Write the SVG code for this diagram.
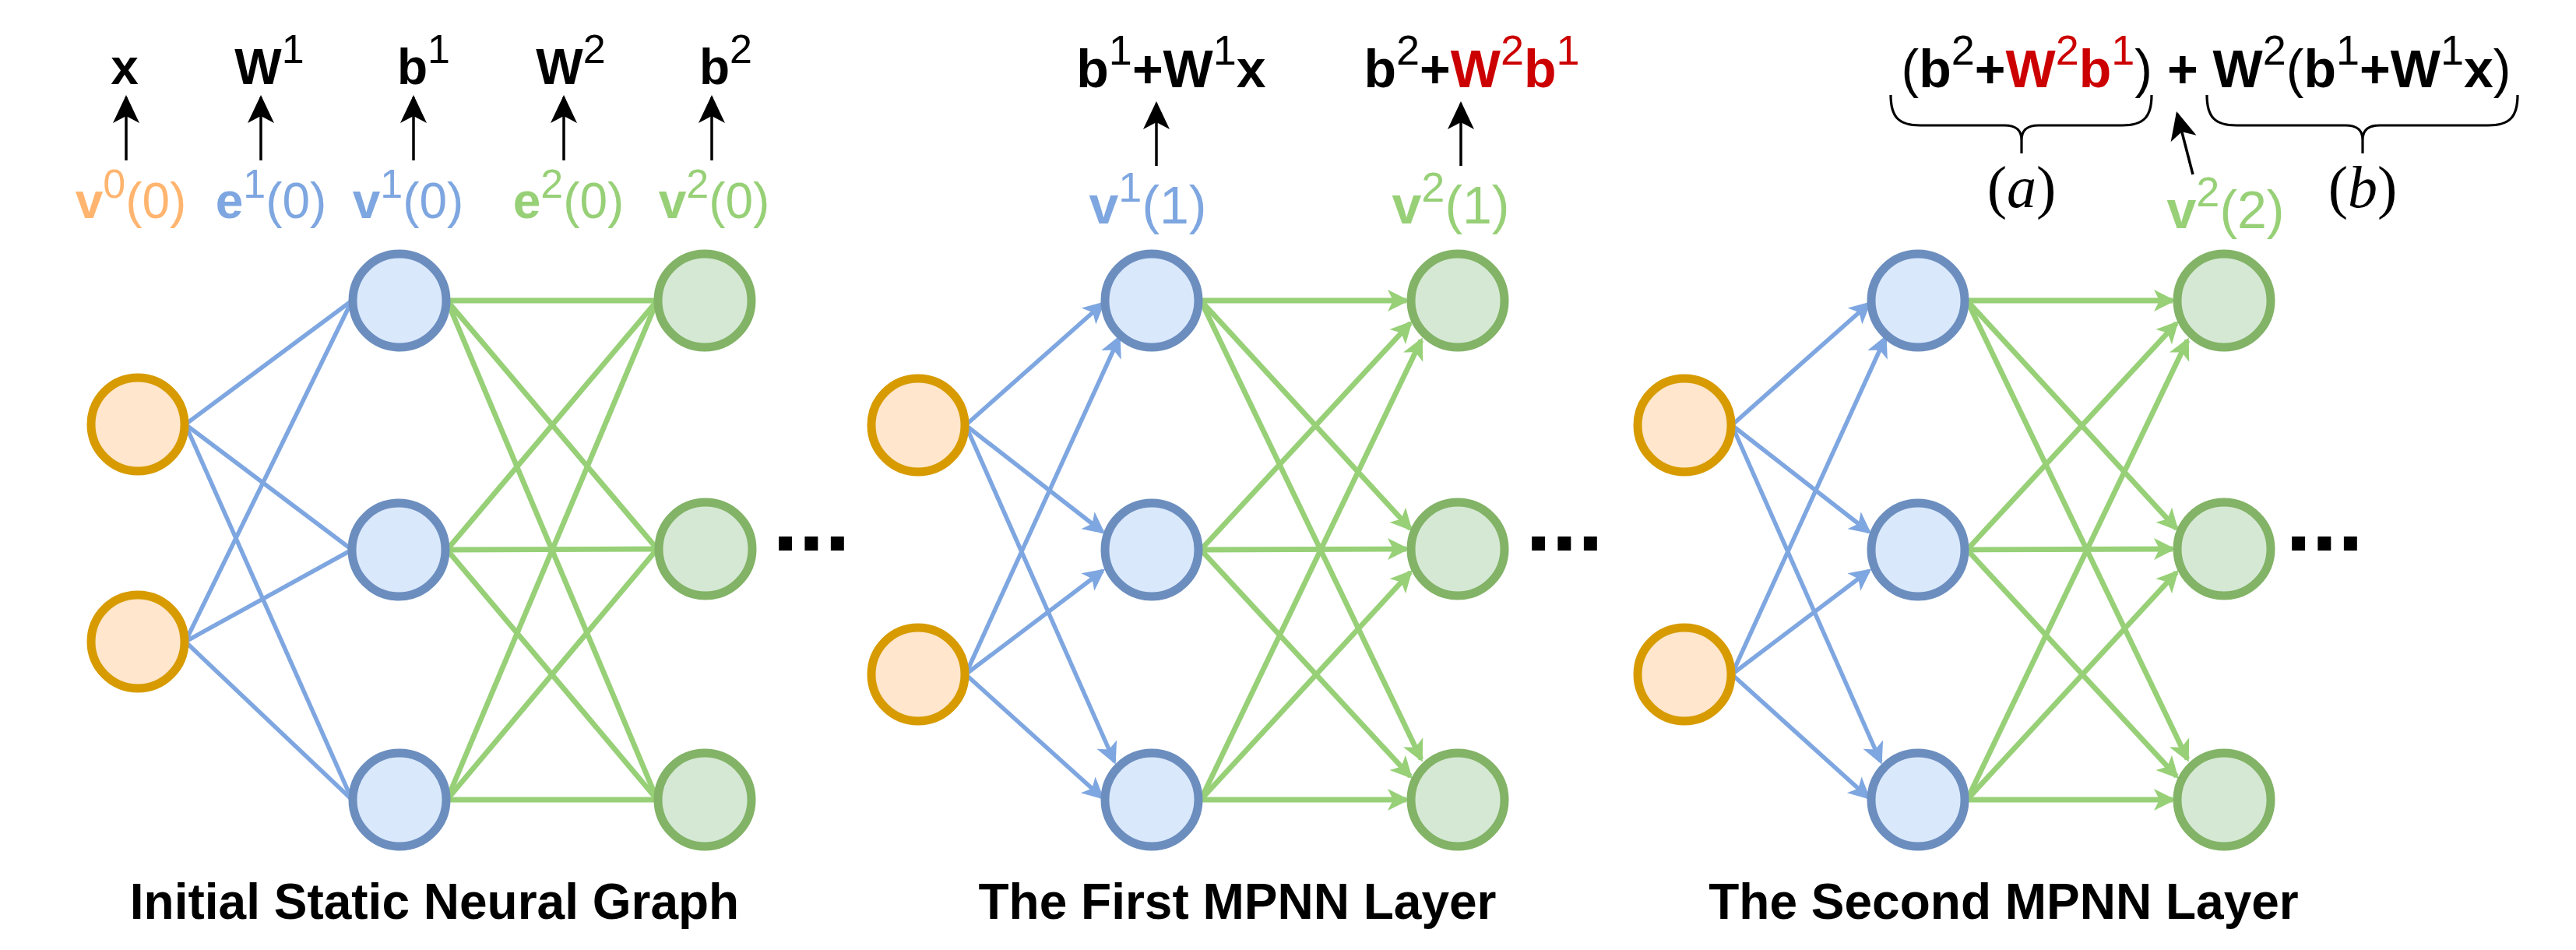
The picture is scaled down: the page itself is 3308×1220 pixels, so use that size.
<svg xmlns="http://www.w3.org/2000/svg" width="3308" height="1220" viewBox="0 0 3308 1220">
<defs>
<style>
.o{fill:#FFE6CC;stroke:#D79B00;stroke-width:11}
.b{fill:#DAE8FC;stroke:#6C8EBF;stroke-width:11}
.g{fill:#D5E8D4;stroke:#82B366;stroke-width:11}
.eb{stroke:#7EA6E0;stroke-width:5.5;fill:none}
.eg{stroke:#97D077;stroke-width:6.8;fill:none}
.ebm{stroke:#7EA6E0;stroke-width:5.5;fill:none;marker-end:url(#ab)}
.egm{stroke:#97D077;stroke-width:6.8;fill:none;marker-end:url(#ag)}
.k{stroke:#000;stroke-width:3.5;fill:none;marker-end:url(#ak)}
.br{stroke:#000;stroke-width:3.2;fill:none}
text{font-family:"Liberation Sans",Arial,Helvetica,sans-serif}
.bd{font-weight:bold}
.red{fill:#CC0000}
.cO{fill:#FFB570}
.cB{fill:#7EA6E0}
.cG{fill:#97D077}
.math{font-family:"Liberation Serif","Times New Roman",serif}
</style>
<marker id="ab" markerUnits="userSpaceOnUse" viewBox="-30 -16 34 32" markerWidth="34" markerHeight="32" refX="-4" refY="0" orient="auto"><path d="M0,0 L-28,-14 L-21,0 L-28,14 Z" fill="#7EA6E0"/></marker>
<marker id="ag" markerUnits="userSpaceOnUse" viewBox="-30 -16 34 32" markerWidth="34" markerHeight="32" refX="-4" refY="0" orient="auto"><path d="M0,0 L-28,-14 L-21,0 L-28,14 Z" fill="#97D077"/></marker>
<marker id="ak" markerUnits="userSpaceOnUse" viewBox="-38 -19 42 38" markerWidth="42" markerHeight="38" refX="-3" refY="0" orient="auto"><path d="M0,0 L-36,-17 L-27,0 L-36,17 Z" fill="#000"/></marker>
</defs>
<rect width="3308" height="1220" fill="#fff"/>

<g id="connectors">
  <g id="p1-edges">
    <path class="eb" d="M238,545 L452,386"/>
    <path class="eb" d="M238,545 L452,706"/>
    <path class="eb" d="M238,545 L452,1027"/>
    <path class="eb" d="M238,824 L452,386"/>
    <path class="eb" d="M238,824 L452,706"/>
    <path class="eb" d="M238,824 L452,1027"/>
    <path class="eg" d="M574,386 L844,386"/>
    <path class="eg" d="M574,386 L844,705"/>
    <path class="eg" d="M574,386 L844,1027"/>
    <path class="eg" d="M574,706 L844,386"/>
    <path class="eg" d="M574,706 L844,705"/>
    <path class="eg" d="M574,706 L844,1027"/>
    <path class="eg" d="M574,1027 L844,386"/>
    <path class="eg" d="M574,1027 L844,705"/>
    <path class="eg" d="M574,1027 L844,1027"/>
  </g>
  <g id="p2-edges">
    <path class="ebm" d="M1240,546 L1416,390"/>
    <path class="ebm" d="M1240,866 L1437,434"/>
    <path class="ebm" d="M1240,546 L1416,683"/>
    <path class="ebm" d="M1240,866 L1416,733"/>
    <path class="ebm" d="M1240,546 L1431,978"/>
    <path class="ebm" d="M1240,866 L1415,1024"/>
    <path class="egm" d="M1542,386 L1806,386"/>
    <path class="egm" d="M1542,706 L1811,415"/>
    <path class="egm" d="M1542,1027 L1825,437"/>
    <path class="egm" d="M1542,386 L1811,679"/>
    <path class="egm" d="M1542,706 L1806,705"/>
    <path class="egm" d="M1542,1027 L1811,735"/>
    <path class="egm" d="M1542,386 L1825,975"/>
    <path class="egm" d="M1542,706 L1811,997"/>
    <path class="egm" d="M1542,1027 L1806,1027"/>
  </g>
  <g id="p3-edges" transform="translate(984,0)">
    <path class="ebm" d="M1240,546 L1416,390"/>
    <path class="ebm" d="M1240,866 L1437,434"/>
    <path class="ebm" d="M1240,546 L1416,683"/>
    <path class="ebm" d="M1240,866 L1416,733"/>
    <path class="ebm" d="M1240,546 L1431,978"/>
    <path class="ebm" d="M1240,866 L1415,1024"/>
    <path class="egm" d="M1542,386 L1806,386"/>
    <path class="egm" d="M1542,706 L1811,415"/>
    <path class="egm" d="M1542,1027 L1825,437"/>
    <path class="egm" d="M1542,386 L1811,679"/>
    <path class="egm" d="M1542,706 L1806,705"/>
    <path class="egm" d="M1542,1027 L1811,735"/>
    <path class="egm" d="M1542,386 L1825,975"/>
    <path class="egm" d="M1542,706 L1811,997"/>
    <path class="egm" d="M1542,1027 L1806,1027"/>
  </g>
  <g id="label-arrows">
    <path class="k" d="M162,206 L162,125"/>
    <path class="k" d="M335,206 L335,125"/>
    <path class="k" d="M531,206 L531,125"/>
    <path class="k" d="M724,206 L724,125"/>
    <path class="k" d="M914,206 L914,125"/>
    <path class="k" d="M1485,213 L1485,133"/>
    <path class="k" d="M1876,213 L1876,133"/>
    <path class="k" d="M2816,224 L2795.8,146"/>
  </g>
</g>

<g id="p1-o1"><circle class="o" cx="177" cy="545" r="60"/></g>
<g id="p1-o2"><circle class="o" cx="177" cy="824" r="60"/></g>
<g id="p1-b1"><circle class="b" cx="513" cy="386" r="60"/></g>
<g id="p1-b2"><circle class="b" cx="512" cy="706" r="60"/></g>
<g id="p1-b3"><circle class="b" cx="513" cy="1027" r="60"/></g>
<g id="p1-g1"><circle class="g" cx="905" cy="386" r="60"/></g>
<g id="p1-g2"><circle class="g" cx="906" cy="705" r="60"/></g>
<g id="p1-g3"><circle class="g" cx="905" cy="1027" r="60"/></g>

<g id="p2-o1"><circle class="o" cx="1179" cy="546" r="60"/></g>
<g id="p2-o2"><circle class="o" cx="1179" cy="866" r="60"/></g>
<g id="p2-b1"><circle class="b" cx="1479" cy="386" r="60"/></g>
<g id="p2-b2"><circle class="b" cx="1479" cy="706" r="60"/></g>
<g id="p2-b3"><circle class="b" cx="1479" cy="1027" r="60"/></g>
<g id="p2-g1"><circle class="g" cx="1872" cy="386" r="60"/></g>
<g id="p2-g2"><circle class="g" cx="1872" cy="705" r="60"/></g>
<g id="p2-g3"><circle class="g" cx="1872" cy="1027" r="60"/></g>

<g id="p3-o1"><circle class="o" cx="2163" cy="546" r="60"/></g>
<g id="p3-o2"><circle class="o" cx="2163" cy="866" r="60"/></g>
<g id="p3-b1"><circle class="b" cx="2463" cy="386" r="60"/></g>
<g id="p3-b2"><circle class="b" cx="2463" cy="706" r="60"/></g>
<g id="p3-b3"><circle class="b" cx="2463" cy="1027" r="60"/></g>
<g id="p3-g1"><circle class="g" cx="2856" cy="386" r="60"/></g>
<g id="p3-g2"><circle class="g" cx="2856" cy="705" r="60"/></g>
<g id="p3-g3"><circle class="g" cx="2856" cy="1027" r="60"/></g>

<g id="labels">
  <text x="160" y="108" font-size="64" text-anchor="middle" class="bd">x</text>
  <text x="346" y="108" font-size="64" text-anchor="middle"><tspan class="bd">W</tspan><tspan dy="-27" font-size="52">1</tspan></text>
  <text x="544" y="108" font-size="64" text-anchor="middle"><tspan class="bd">b</tspan><tspan dy="-27" font-size="52">1</tspan></text>
  <text x="733" y="108" font-size="64" text-anchor="middle"><tspan class="bd">W</tspan><tspan dy="-27" font-size="52">2</tspan></text>
  <text x="932" y="108" font-size="64" text-anchor="middle"><tspan class="bd">b</tspan><tspan dy="-27" font-size="52">2</tspan></text>

  <text x="168" y="280" font-size="64" text-anchor="middle" class="cO"><tspan class="bd">v</tspan><tspan dy="-26" font-size="52">0</tspan><tspan dy="26">(0)</tspan></text>
  <text x="348" y="280" font-size="64" text-anchor="middle" class="cB"><tspan class="bd">e</tspan><tspan dy="-26" font-size="52">1</tspan><tspan dy="26">(0)</tspan></text>
  <text x="524" y="280" font-size="64" text-anchor="middle" class="cB"><tspan class="bd">v</tspan><tspan dy="-26" font-size="52">1</tspan><tspan dy="26">(0)</tspan></text>
  <text x="730" y="280" font-size="64" text-anchor="middle" class="cG"><tspan class="bd">e</tspan><tspan dy="-26" font-size="52">2</tspan><tspan dy="26">(0)</tspan></text>
  <text x="917" y="280" font-size="64" text-anchor="middle" class="cG"><tspan class="bd">v</tspan><tspan dy="-26" font-size="52">2</tspan><tspan dy="26">(0)</tspan></text>

  <text x="1504" y="112" font-size="68" text-anchor="middle"><tspan class="bd">b</tspan><tspan dy="-29" font-size="54">1</tspan><tspan dy="29" class="bd">+W</tspan><tspan dy="-29" font-size="54">1</tspan><tspan dy="29" class="bd">x</tspan></text>
  <text x="1890" y="112" font-size="68" text-anchor="middle"><tspan class="bd">b</tspan><tspan dy="-29" font-size="54">2</tspan><tspan dy="29" class="bd">+</tspan><tspan class="bd red">W</tspan><tspan dy="-29" font-size="54" class="red">2</tspan><tspan dy="29" class="bd red">b</tspan><tspan dy="-29" font-size="54" class="red">1</tspan></text>
  <text x="1474" y="287" font-size="68" text-anchor="middle" class="cB"><tspan class="bd">v</tspan><tspan dy="-28" font-size="54">1</tspan><tspan dy="28">(1)</tspan></text>
  <text x="1863" y="287" font-size="68" text-anchor="middle" class="cG"><tspan class="bd">v</tspan><tspan dy="-28" font-size="54">2</tspan><tspan dy="28">(1)</tspan></text>

  <text x="2833" y="112" font-size="68" text-anchor="middle">(<tspan class="bd">b</tspan><tspan dy="-29" font-size="54">2</tspan><tspan dy="29" class="bd">+</tspan><tspan class="bd red">W</tspan><tspan dy="-29" font-size="54" class="red">2</tspan><tspan dy="29" class="bd red">b</tspan><tspan dy="-29" font-size="54" class="red">1</tspan><tspan dy="29">)</tspan><tspan class="bd"> + W</tspan><tspan dy="-29" font-size="54">2</tspan><tspan dy="29">(</tspan><tspan class="bd">b</tspan><tspan dy="-29" font-size="54">1</tspan><tspan dy="29" class="bd">+W</tspan><tspan dy="-29" font-size="54">1</tspan><tspan dy="29" class="bd">x</tspan>)</text>
  <path class="br" d="M2428,122 C2428,150 2438,161 2466,161 L2574,161 C2588,161 2596,166 2596,180 L2596,197 M2596,180 C2596,166 2604,161 2618,161 L2725,161 C2753,161 2763,150 2763,122"/>
  <path class="br" d="M2834,122 C2834,150 2844,161 2872,161 L3012,161 C3026,161 3034,166 3034,180 L3034,197 M3034,180 C3034,166 3042,161 3056,161 L3195,161 C3223,161 3233,150 3233,122"/>
  <text x="2596" y="266" font-size="76" text-anchor="middle" class="math">(<tspan font-style="italic">a</tspan>)</text>
  <text x="3034" y="266" font-size="76" text-anchor="middle" class="math">(<tspan font-style="italic">b</tspan>)</text>
  <text x="2858" y="293" font-size="68" text-anchor="middle" class="cG"><tspan class="bd">v</tspan><tspan dy="-28" font-size="54">2</tspan><tspan dy="28">(2)</tspan></text>

  <text x="992" y="707" font-size="120" class="bd">...</text>
  <text x="1959" y="707" font-size="120" class="bd">...</text>
  <text x="2935" y="707" font-size="120" class="bd">...</text>

  <text x="558" y="1180" font-size="64" text-anchor="middle" class="bd">Initial Static Neural Graph</text>
  <text x="1589" y="1180" font-size="64" text-anchor="middle" class="bd">The First MPNN Layer</text>
  <text x="2573" y="1180" font-size="64" text-anchor="middle" class="bd">The Second MPNN Layer</text>
</g>
</svg>
